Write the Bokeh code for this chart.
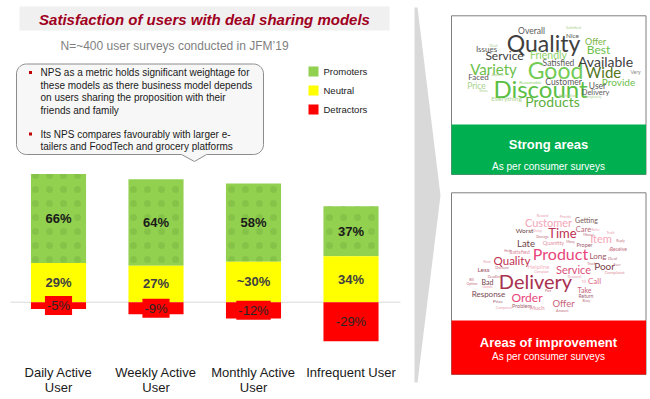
import numpy as np
from bokeh.plotting import figure
from bokeh.models import Range1d, ColumnDataSource
from bokeh.core.properties import value
from bokeh.embed import file_html
from bokeh.resources import INLINE

# ---------------- data ----------------
categories = ["Daily Active\nUser", "Weekly Active\nUser", "Monthly Active\nUser", "Infrequent User"]
promoters = [66, 64, 58, 37]
neutral = [29, 27, 30, 34]
detractors = [5, 9, 12, 29]
promoter_labels = ["66%", "64%", "58%", "37%"]
neutral_labels = ["29%", "27%", "~30%", "34%"]
detractor_labels = ["-5%", "-9%", "-12%", "-29%"]
series_names = ["Promoters", "Neutral", "Detractors"]

title_text = "Satisfaction of users with deal sharing models"
subtitle_text = "N=~400 user surveys conducted in JFM\u201919"
bullet1 = ["NPS as a metric holds significant weightage for",
           "these models as there business model depends",
           "on users sharing the proposition with their",
           "friends and family"]
bullet2 = ["Its NPS compares favourably with larger e-",
           "tailers and FoodTech and grocery platforms"]

strong_words = ["Quality", "Good", "Discount", "Variety", "Available", "Wide", "Products",
                "Service", "Friendly", "Best", "Offer", "Provide", "Customer", "Satisfied",
                "User", "Issues", "Faced", "Price", "Overall", "Delivery", "Everything",
                "Nice", "Very", "Satisfied", "Deal", "Aspects", "Reasonable", "Share",
                "Application", "Completely"]
weak_words = ["Delivery", "Product", "Time", "Customer", "Item", "Quality", "Service", "Order",
              "Offer", "Poor", "Late", "Response", "Long", "Call", "Take", "Bad", "Worst",
              "Getting", "Care", "Less", "Helpline", "Quantity", "Proper", "Satisfied",
              "Receive", "Return", "Problem", "Much", "Price", "Reward", "Provide", "Delay",
              "Damage", "Refer", "Money", "Truth", "Reply", "Many", "Help", "App", "Deal",
              "Truck", "Ever", "Now", "Complaint", "Discount", "Complain", "Respond", "Bill",
              "Option", "Deadline", "Goods", "Till", "Part", "Busy", "Compared", "Amount"]

# ---------------- styles / layout ----------------
GREEN, YELLOW, RED = "#92d050", "#ffff00", "#ff0000"
FONT = value("Liberation Sans")
CLOUD_FONT = value("Lato")
W_PX, H_PX = 650, 399

p = figure(width=W_PX, height=H_PX, x_range=Range1d(0, W_PX), y_range=Range1d(H_PX, 0),
           x_axis_type=None, y_axis_type=None, toolbar_location=None,
           output_backend="svg", min_border=0, outline_line_color=None,
           background_fill_color="white", border_fill_color="white")
p.grid.visible = False

BASE_Y, PX_PER_PCT = 301.7, 1.35
X0, STEP = 58.0, 97.5
p.extra_y_ranges = {"pct": Range1d(-(H_PX - BASE_Y) / PX_PER_PCT, BASE_Y / PX_PER_PCT)}
p.extra_x_ranges = {"cat": Range1d(-X0 / STEP, (W_PX - X0) / STEP)}

# title
p.quad(left=19, right=389, top=6, bottom=30, fill_color="#f0f0f0", line_color=None)
p.text(x=[204], y=[18.5], text=[title_text], text_font=FONT, text_font_size="15px",
       text_font_style="bold italic", text_color="#a0001e", text_align="center",
       text_baseline="middle")
p.text(x=[60], y=[45], text=[subtitle_text], text_font=FONT, text_font_size="12px",
       text_color="#7f7f7f", text_align="left", text_baseline="middle")

# callout bubble
def bubble(l, r, t, b, rad, base_l, base_r, tip):
    xs, ys = [], []
    def arc(cx, cy, a0, a1):
        a = np.radians(np.linspace(a0, a1, 10))
        xs.extend(cx + rad * np.cos(a)); ys.extend(cy + rad * np.sin(a))
    arc(l + rad, t + rad, 180, 270)
    arc(r - rad, t + rad, 270, 360)
    arc(r - rad, b - rad, 0, 90)
    xs.extend([base_r, tip[0], base_l]); ys.extend([b, tip[1], b])
    arc(l + rad, b - rad, 90, 180)
    return xs, ys

bx, by = bubble(16, 263, 63.5, 154, 10, 181, 206, (194, 161))
p.patch(bx, by, fill_color="#f7f7f7", line_color="#8c8c8c", line_width=1)
line_y1 = [72, 84.5, 97, 109.5]
line_y2 = [133.5, 146]
p.rect(x=[30, 30], y=[line_y1[0], line_y2[0]], width=3, height=3, fill_color="#c00000",
       line_color=None)
p.text(x=[40] * len(bullet1), y=line_y1, text=bullet1, text_font=FONT, text_font_size="10px",
       text_color="#1a1a1a", text_baseline="middle")
p.text(x=[40] * len(bullet2), y=line_y2, text=bullet2, text_font=FONT, text_font_size="10px",
       text_color="#1a1a1a", text_baseline="middle")

# legend
leg_y = [71, 90, 109]
for name, col, yy in zip(series_names, [GREEN, YELLOW, RED], leg_y):
    p.quad(left=308, right=318, top=yy - 5, bottom=yy + 5, fill_color=col, line_color=None)
    p.text(x=[323], y=[yy], text=[name], text_font=FONT, text_font_size="9.5px",
           text_color="#1a1a1a", text_baseline="middle")

# bars
idx = list(range(len(categories)))
src = ColumnDataSource(dict(
    x=idx,
    neu=neutral,
    top_p=[n + q for n, q in zip(neutral, promoters)],
    det=[-d for d in detractors],
    mid_p=[n + q / 2 for n, q in zip(neutral, promoters)],
    mid_n=[n / 2 for n in neutral],
    mid_d=[-d / 2 for d in detractors],
    lp=promoter_labels, ln=neutral_labels, ld=detractor_labels,
))
p.segment(x0=10, x1=400, y0=0, y1=0, y_range_name="pct", line_color="#d9d9d9", line_width=1)
W = 0.565
p.vbar(x="x", width=W, bottom="neu", top="top_p", source=src, fill_color=GREEN,
       line_color=None, hatch_pattern=".", hatch_color="#5f9a30", hatch_alpha=0.25,
       hatch_scale=14, hatch_weight=1, x_range_name="cat", y_range_name="pct")
p.vbar(x="x", width=W, bottom=0, top="neu", source=src, fill_color=YELLOW, line_color=None,
       x_range_name="cat", y_range_name="pct")
p.vbar(x="x", width=W, bottom="det", top=0, source=src, fill_color=RED, line_color=None,
       x_range_name="cat", y_range_name="pct")
p.text(x="x", y="mid_p", text="lp", source=src, text_font=FONT, text_font_size="13px",
       text_font_style="bold", text_color="#1a1a1a", text_align="center", text_baseline="middle",
       x_range_name="cat", y_range_name="pct")
p.text(x="x", y="mid_n", text="ln", source=src, text_font=FONT, text_font_size="13px",
       text_font_style="bold", text_color="#404040", text_align="center", text_baseline="middle",
       x_range_name="cat", y_range_name="pct")
p.text(x="x", y="mid_d", text="ld", source=src, text_font=FONT, text_font_size="13px",
       text_color="#262626", text_align="center", text_baseline="middle",
       background_fill_color=RED, padding=2,
       x_range_name="cat", y_range_name="pct")
p.text(x=idx, y=[364.5] * len(idx), text=categories, text_font=FONT, text_font_size="13px",
       text_color="#1a1a1a", text_align="center", text_baseline="top", text_line_height=1.0,
       x_range_name="cat")

# chevron
p.patch([414, 417, 440, 417, 414], [7, 7, 195, 382, 382], fill_color="#d9d9d9", line_color=None)

# right panels
for top, bot, band_top, col in [(15.3, 174, 124, "#00b050"), (192.3, 374, 320, "#ff0000")]:
    p.quad(left=451, right=645.5, top=top, bottom=bot, fill_color="white", line_color="#7f7f7f",
           line_width=1)
    p.quad(left=451, right=645.5, top=band_top, bottom=bot, fill_color=col, line_color=None)
p.text(x=[548, 548], y=[144, 341.7], text=["Strong areas", "Areas of improvement"],
       text_font=FONT, text_font_size="13px", text_font_style="bold", text_color="white",
       text_align="center", text_baseline="middle")
p.text(x=[548, 548], y=[166, 355.7], text=["As per consumer surveys"] * 2,
       text_font=FONT, text_font_size="10px", text_color="white",
       text_align="center", text_baseline="middle")

# word clouds (decorative layout: x, y, size, colour per word)
strong_layout = [
    (543, 42, 23, "#404040"), (555, 69, 23, "#72cc55"), (540, 88, 24, "#5cbf45"),
    (493, 68, 15, "#6cc04a"), (605, 61, 14, "#404040"), (603, 71.5, 15, "#56771d"),
    (552, 100.5, 14, "#5cb040"), (504, 55, 12, "#404040"), (548, 54, 10.5, "#8fd16b"),
    (598, 49, 12, "#6cc04a"), (595, 40.5, 9, "#7ab648"), (618, 81, 10, "#6cc04a"),
    (563, 81, 8.5, "#595959"), (558, 62.5, 8.5, "#595959"), (597, 85, 8.5, "#595959"),
    (486, 48, 8, "#595959"), (478, 76.5, 8, "#595959"), (476, 85, 8.5, "#a9d18e"),
    (531, 30, 8.5, "#595959"), (595, 91.5, 7.5, "#595959"), (506, 98, 6.5, "#a9d18e"),
    (572, 35, 6.5, "#595959"), (635, 71.5, 5, "#7f7f7f"), (573, 27, 4, "#a9d18e"),
    (493, 45, 4, "#a9d18e"), (497, 74, 3.5, "#a9d18e"), (530, 81.5, 4.5, "#8fd16b"),
    (483, 90, 3.5, "#a9d18e"), (567, 95, 3.5, "#a9d18e"), (592, 96.5, 3.5, "#a9d18e"),
]
weak_layout = [
    (535, 280, 20, "#a8324f"), (560, 253, 16, "#e8457a"), (562, 232.5, 13, "#c0304f"),
    (548, 222, 11, "#f4a6b8"), (600.5, 238, 11, "#f4a6b8"), (511.5, 260, 11.5, "#c0304f"),
    (573, 269, 11, "#d9507a"), (526.5, 297, 12, "#e8457a"), (563, 302.5, 9.5, "#c86478"),
    (604, 265, 10, "#7a3f4a"), (525.5, 242.5, 9.5, "#6e3f46"), (488, 293, 8, "#7a4a52"),
    (597.5, 255, 8, "#9c5466"), (594, 280, 8, "#e36a86"), (584, 289, 7, "#c86478"),
    (487, 281, 7, "#6e3f46"), (524, 230, 6.5, "#6e3f46"), (586, 219, 7, "#7a5a5a"),
    (583, 229, 7.5, "#b5687a"), (483, 269, 6.5, "#9c5466"), (538, 266, 6, "#f4b6c4"),
    (553, 242.5, 5.5, "#e090a0"), (584, 244, 5.5, "#a06070"), (519, 251, 5.5, "#e090a0"),
    (618, 248, 5, "#c07080"), (585.5, 295.5, 5, "#a06070"), (521.5, 305, 5.5, "#a06070"),
    (536.5, 306.5, 6, "#e08aa0"), (497.5, 300.5, 4.5, "#a06070"), (542, 215, 3.5, "#e8a0b0"),
    (565, 216, 3.5, "#e8a0b0"), (537, 230.5, 3.5, "#e8a0b0"), (542, 236, 3.5, "#c07080"),
    (595, 229, 3.5, "#e8a0b0"), (588, 234, 3.5, "#c07080"), (610, 232, 3.5, "#e8a0b0"),
    (620, 240, 3.5, "#c07080"), (570, 241.5, 3.5, "#c07080"), (507.5, 250, 3.5, "#c07080"),
    (611.5, 249, 3.5, "#e8a0b0"), (612, 257.5, 4.5, "#c07080"), (591, 263, 3.5, "#c07080"),
    (616.5, 264, 3.5, "#c07080"), (486.5, 261.5, 3.5, "#e8a0b0"), (614, 271.5, 4.5, "#e090a0"),
    (501.5, 267.5, 3.5, "#c07080"), (541, 271.5, 3.5, "#e8a0b0"), (574, 276.5, 3.5, "#e8a0b0"),
    (471, 279, 3.5, "#c07080"), (471.5, 283.3, 3.5, "#c07080"), (494, 276, 3.5, "#c07080"),
    (487, 286, 3.5, "#e8a0b0"), (583.3, 281.7, 3.5, "#e8a0b0"), (547.7, 290.7, 3.5, "#c07080"),
    (585.7, 300.7, 3.5, "#c07080"), (503.3, 307.3, 3.5, "#e8a0b0"), (561.7, 310.7, 3.5, "#c07080"),
]
for words, layout in [(strong_words, strong_layout), (weak_words, weak_layout)]:
    n = min(len(words), len(layout))
    p.text(x=[l[0] for l in layout[:n]], y=[l[1] for l in layout[:n]], text=words[:n],
           text_font_size=[f"{l[2]}px" for l in layout[:n]],
           text_color=[l[3] for l in layout[:n]], text_font=CLOUD_FONT,
           text_align="center", text_baseline="middle")

open("out.html", "w").write(file_html(p, INLINE))
